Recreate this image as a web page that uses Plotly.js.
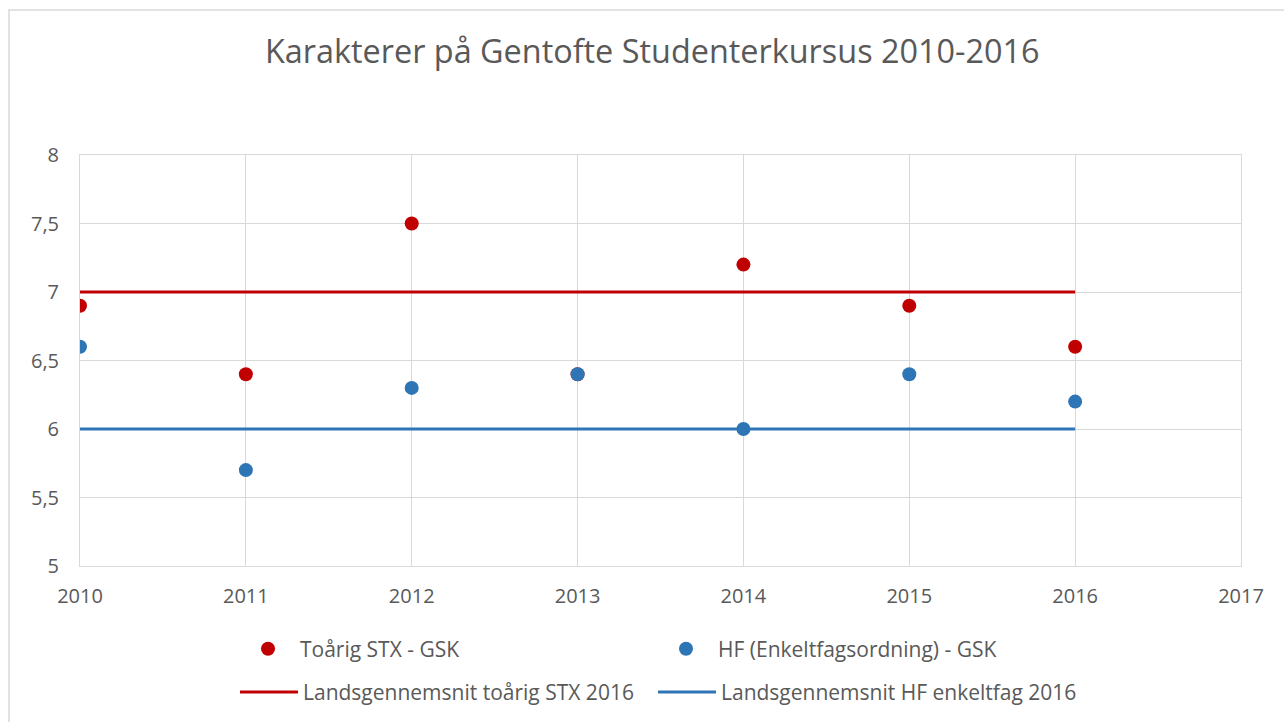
<!DOCTYPE html>
<html>
<head>
<meta charset="utf-8">
<script src="https://cdn.plot.ly/plotly-3.0.1.min.js"></script>
<style>html,body{margin:0;padding:0;background:#fff;}#chart{width:1284px;height:722px;}</style>
</head>
<body>
<div id="chart"></div>
<script>
const years = [2010, 2011, 2012, 2013, 2014, 2015, 2016];
const stxGsk = [6.9, 6.4, 7.5, 6.4, 7.2, 6.9, 6.6];
const hfGsk = [6.6, 5.7, 6.3, 6.4, 6.0, 6.4, 6.2];
const stxNational = [7, 7, 7, 7, 7, 7, 7];
const hfNational = [6, 6, 6, 6, 6, 6, 6];
const xTicks = [2010, 2011, 2012, 2013, 2014, 2015, 2016, 2017];
const yTicks = [5, 5.5, 6, 6.5, 7, 7.5, 8];

const RED = '#C00000', BLUE = '#2E75B6', TXT = '#595959', GRID = '#D9D9D9';
const FONT = 'Open Sans, sans-serif';

const traces = [
  {x: years, y: stxNational, mode: 'lines', name: 'Landsgennemsnit toårig STX 2016',
   line: {color: RED, width: 3}, legend: 'legend2', hoverinfo: 'skip'},
  {x: years, y: hfNational, mode: 'lines', name: 'Landsgennemsnit HF enkeltfag 2016',
   line: {color: BLUE, width: 3}, legend: 'legend3', hoverinfo: 'skip'},
  {x: years, y: stxGsk, mode: 'markers', name: 'Toårig STX - GSK',
   marker: {color: RED, size: 14}, legend: 'legend'},
  {x: years, y: hfGsk, mode: 'markers', name: 'HF (Enkeltfagsordning) - GSK',
   marker: {color: BLUE, size: 14}, legend: 'legend'}
];

const legendRow2 = {orientation: 'h', xref: 'container', yref: 'container', y: 0.041,
           xanchor: 'left', yanchor: 'middle', itemwidth: 58,
           font: {size: 21, color: TXT}, bgcolor: 'rgba(0,0,0,0)', traceorder: 'normal'};

const layout = {
  width: 1284, height: 722,
  margin: {l: 80, r: 43, t: 155, b: 156},
  paper_bgcolor: '#fff', plot_bgcolor: '#fff',
  separators: ',.',
  font: {family: FONT, color: TXT, size: 20},
  title: {text: 'Karakterer på Gentofte Studenterkursus 2010-2016',
          font: {family: FONT, size: 32.4, color: TXT},
          x: 0.508, xanchor: 'center', y: 0.928, yanchor: 'middle', xref: 'container', yref: 'container'},
  xaxis: {range: [2010, 2017], tickvals: xTicks, ticktext: xTicks.map(String),
          showgrid: true, gridcolor: GRID, gridwidth: 1, zeroline: false,
          showline: true, linecolor: GRID, linewidth: 1, mirror: true,
          ticks: '', ticklabelstandoff: 12, tickfont: {size: 20, color: TXT}},
  yaxis: {range: [5, 8], tickvals: yTicks, ticktext: yTicks.map(v => String(v).replace('.', ',')),
          showgrid: true, gridcolor: GRID, gridwidth: 1, zeroline: false,
          showline: true, linecolor: GRID, linewidth: 1, mirror: true,
          ticks: '', ticklabelstandoff: 16, tickfont: {size: 20, color: TXT}},
  legend: {orientation: 'h', xref: 'container', yref: 'container', x: 236 / 1284, y: 0.101,
           xanchor: 'left', yanchor: 'middle', itemwidth: 54, entrywidth: 349, entrywidthmode: 'pixels',
           font: {size: 21, color: TXT}, bgcolor: 'rgba(0,0,0,0)', traceorder: 'normal'},
  legend2: Object.assign({}, legendRow2, {x: 235 / 1284}),
  legend3: Object.assign({}, legendRow2, {x: 653 / 1284}),
  shapes: [{type: 'rect', xref: 'paper', yref: 'paper',
            x0: (9 - 80) / 1161, x1: (1300 - 80) / 1161,
            y0: (566 - 10) / 411, y1: (566 - 740) / 411,
            line: {color: '#D9D9D9', width: 1.5}, fillcolor: 'rgba(0,0,0,0)', layer: 'below'}],
  showlegend: true
};

Plotly.newPlot('chart', traces, layout, {staticPlot: true, displayModeBar: false});
</script>
</body>
</html>
